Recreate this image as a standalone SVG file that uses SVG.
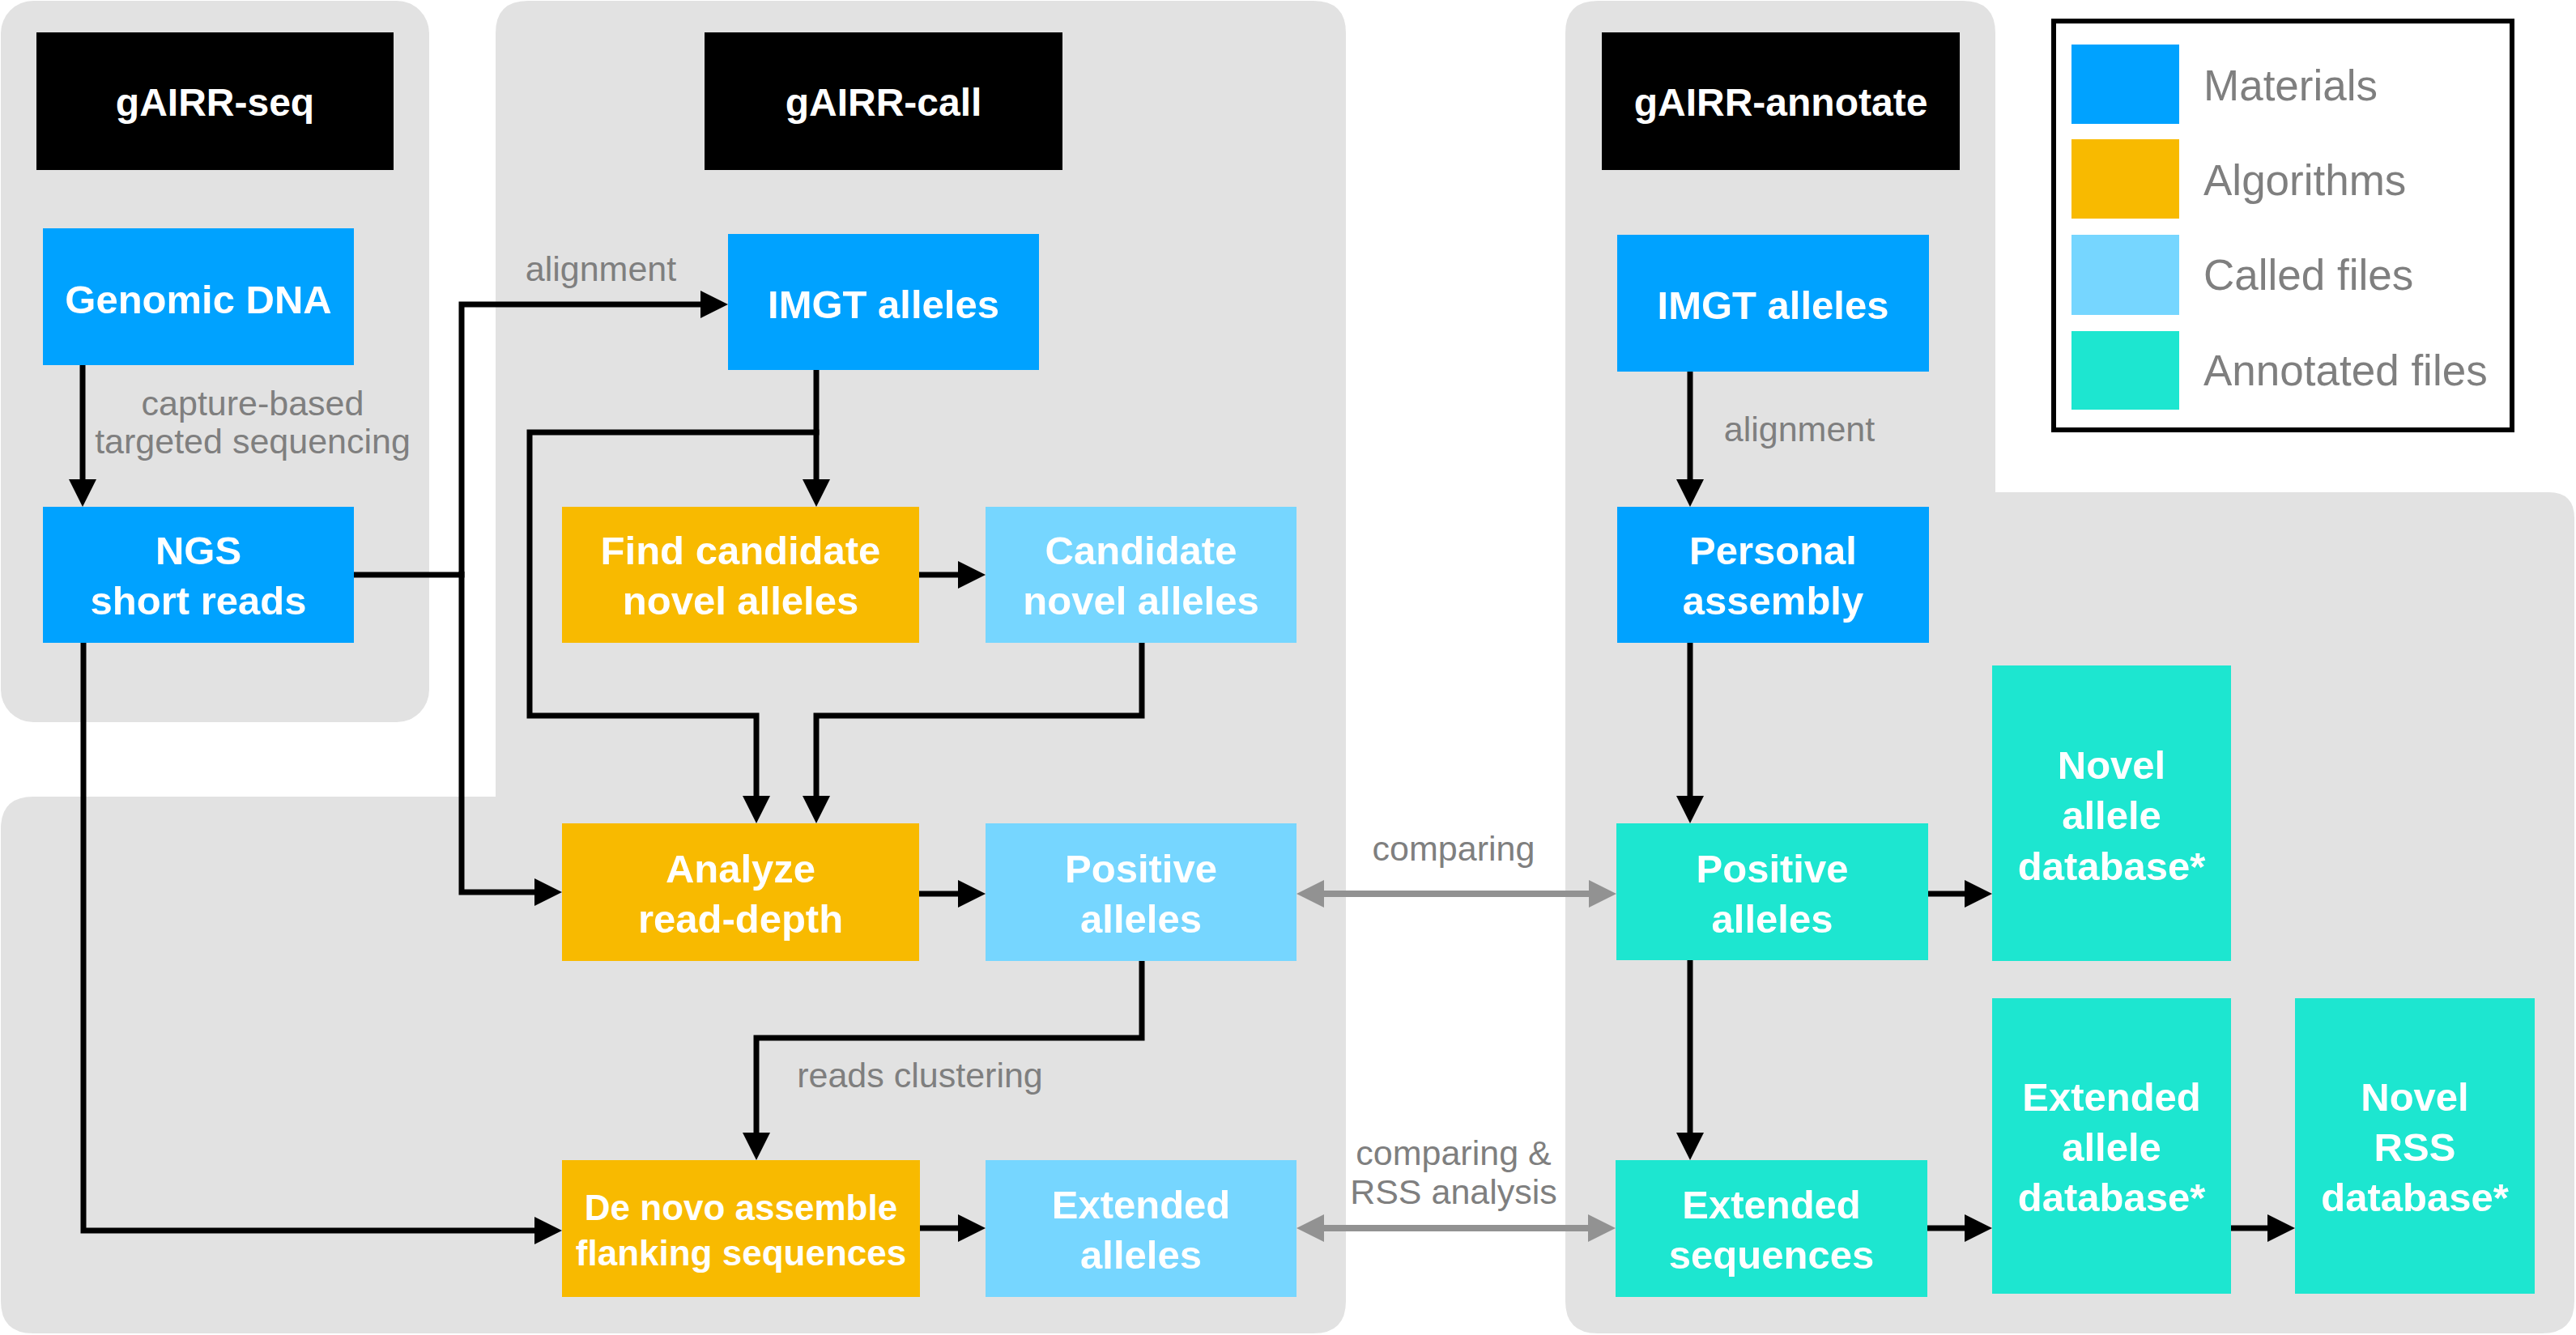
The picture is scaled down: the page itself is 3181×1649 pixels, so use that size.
<svg xmlns="http://www.w3.org/2000/svg" width="3181" height="1649" viewBox="0 0 3181 1649">
<style>
.panel{fill:#E2E2E2}
.hdr{fill:#000}
.hdrt{font-family:"Liberation Sans",Arial,sans-serif;font-weight:bold;font-size:48px;fill:#fff;text-anchor:middle}
.nt{font-family:"Liberation Sans",Arial,sans-serif;font-weight:bold;font-size:49px;fill:#fff;text-anchor:middle}
.nts{font-family:"Liberation Sans",Arial,sans-serif;font-weight:bold;font-size:44px;fill:#fff;text-anchor:middle}
.mat{fill:#00A2FF}
.alg{fill:#F8BA00}
.cal{fill:#76D6FF}
.ann{fill:#1DE6D0}
.lbl{font-family:"Liberation Sans",Arial,sans-serif;font-size:43px;fill:#7F7F7F}
.leg{font-family:"Liberation Sans",Arial,sans-serif;font-size:53px;fill:#7F7F7F}
.c{fill:none;stroke:#000;stroke-width:7}
.g{fill:none;stroke:#929292;stroke-width:8}
</style>
<defs>
<marker id="ah" markerUnits="userSpaceOnUse" markerWidth="34" markerHeight="34" refX="4" refY="17" orient="auto">
<path d="M0,0 L34,17 L0,34 z" fill="#000"/>
</marker>
<marker id="gh" markerUnits="userSpaceOnUse" markerWidth="34" markerHeight="34" refX="4" refY="17" orient="auto-start-reverse">
<path d="M0,0 L34,17 L0,34 z" fill="#929292"/>
</marker>
</defs>
<rect width="3181" height="1649" fill="#fff"/>
<g id="panels">
<rect id="panel-seq" class="panel" x="1" y="1" width="529" height="891" rx="40"/>
<path id="panel-call" class="panel" d="M652,1 H1622 Q1662,1 1662,41 V1607 Q1662,1647 1622,1647 H41 Q1,1647 1,1607 V1024 Q1,984 41,984 H612 V41 Q612,1 652,1 Z"/>
<path id="panel-annotate" class="panel" d="M1973,1 H2424 Q2464,1 2464,41 V608 H3147 Q3179,608 3179,640 V1607 Q3179,1647 3139,1647 H1973 Q1933,1647 1933,1607 V41 Q1933,1 1973,1 Z"/>
</g>
<g id="hdr-seq"><rect class="hdr" x="45" y="40" width="441" height="170"/><text class="hdrt" x="265.5" y="143">gAIRR-seq</text></g>
<g id="hdr-call"><rect class="hdr" x="870" y="40" width="442" height="170"/><text class="hdrt" x="1091" y="143">gAIRR-call</text></g>
<g id="hdr-annotate"><rect class="hdr" x="1978" y="40" width="442" height="170"/><text class="hdrt" x="2199" y="143">gAIRR-annotate</text></g>

<g id="connectors">
<path class="c" d="M102,451 V596" marker-end="url(#ah)"/>
<path class="c" d="M437,710 H570 V376 H869" marker-end="url(#ah)"/>
<path class="c" d="M570,706 V1102 H664" marker-end="url(#ah)"/>
<path class="c" d="M103,794 V1520 H664" marker-end="url(#ah)"/>
<path class="c" d="M1008,457 V596" marker-end="url(#ah)"/>
<path class="c" d="M1011.5,534 H654 V884 H934 V987" marker-end="url(#ah)"/>
<path class="c" d="M1135,710 H1187" marker-end="url(#ah)"/>
<path class="c" d="M1410,794 V884 H1008 V987" marker-end="url(#ah)"/>
<path class="c" d="M1135,1104 H1187" marker-end="url(#ah)"/>
<path class="c" d="M1410,1187 V1282 H934 V1403" marker-end="url(#ah)"/>
<path class="c" d="M1136,1517 H1187" marker-end="url(#ah)"/>
<path class="g" d="M1631,1104 H1966" marker-start="url(#gh)" marker-end="url(#gh)"/>
<path class="g" d="M1631,1517 H1965" marker-start="url(#gh)" marker-end="url(#gh)"/>
<path class="c" d="M2087,459 V596" marker-end="url(#ah)"/>
<path class="c" d="M2087,794 V987" marker-end="url(#ah)"/>
<path class="c" d="M2087,1186 V1403" marker-end="url(#ah)"/>
<path class="c" d="M2381,1104 H2430" marker-end="url(#ah)"/>
<path class="c" d="M2379,1517 H2430" marker-end="url(#ah)"/>
<path class="c" d="M2755,1517 H2804" marker-end="url(#ah)"/>
</g>

<g id="labels">
<text class="lbl" x="312" y="513" text-anchor="middle">capture-based</text>
<text class="lbl" x="312" y="560" text-anchor="middle">targeted sequencing</text>
<text class="lbl" x="742" y="347" text-anchor="middle">alignment</text>
<text class="lbl" x="2222" y="545" text-anchor="middle">alignment</text>
<text class="lbl" x="1795" y="1063" text-anchor="middle">comparing</text>
<text class="lbl" x="1795" y="1439" text-anchor="middle">comparing &amp;</text>
<text class="lbl" x="1795" y="1487" text-anchor="middle">RSS analysis</text>
<text class="lbl" x="1136" y="1343" text-anchor="middle">reads clustering</text>
</g>

<g id="genomic-dna"><rect class="mat" x="53" y="282" width="384" height="169"/><text class="nt" x="245" y="387">Genomic DNA</text></g>
<g id="ngs-reads"><rect class="mat" x="53" y="626" width="384" height="168"/><text class="nt" x="245" y="697">NGS</text><text class="nt" x="245" y="759">short reads</text></g>
<g id="imgt-call"><rect class="mat" x="899" y="289" width="384" height="168"/><text class="nt" x="1091" y="393">IMGT alleles</text></g>
<g id="find-candidate"><rect class="alg" x="694" y="626" width="441" height="168"/><text class="nt" x="914.5" y="697">Find candidate</text><text class="nt" x="914.5" y="759">novel alleles</text></g>
<g id="candidate-novel"><rect class="cal" x="1217" y="626" width="384" height="168"/><text class="nt" x="1409" y="697">Candidate</text><text class="nt" x="1409" y="759">novel alleles</text></g>
<g id="analyze"><rect class="alg" x="694" y="1017" width="441" height="170"/><text class="nt" x="914.5" y="1090">Analyze</text><text class="nt" x="914.5" y="1152">read-depth</text></g>
<g id="positive-call"><rect class="cal" x="1217" y="1017" width="384" height="170"/><text class="nt" x="1409" y="1090">Positive</text><text class="nt" x="1409" y="1152">alleles</text></g>
<g id="de-novo"><rect class="alg" x="694" y="1433" width="442" height="169"/><text class="nts" x="915" y="1507">De novo assemble</text><text class="nts" x="915" y="1563">flanking sequences</text></g>
<g id="extended-alleles"><rect class="cal" x="1217" y="1433" width="384" height="169"/><text class="nt" x="1409" y="1505">Extended</text><text class="nt" x="1409" y="1567">alleles</text></g>
<g id="imgt-annotate"><rect class="mat" x="1997" y="290" width="385" height="169"/><text class="nt" x="2189.5" y="394">IMGT alleles</text></g>
<g id="personal-assembly"><rect class="mat" x="1997" y="626" width="385" height="168"/><text class="nt" x="2189.5" y="697">Personal</text><text class="nt" x="2189.5" y="759">assembly</text></g>
<g id="positive-annotate"><rect class="ann" x="1996" y="1017" width="385" height="169"/><text class="nt" x="2188.5" y="1090">Positive</text><text class="nt" x="2188.5" y="1152">alleles</text></g>
<g id="extended-sequences"><rect class="ann" x="1995" y="1433" width="385" height="169"/><text class="nt" x="2187.5" y="1505">Extended</text><text class="nt" x="2187.5" y="1567">sequences</text></g>
<g id="novel-allele-db"><rect class="ann" x="2460" y="822" width="295" height="365"/><text class="nt" x="2607.5" y="962">Novel</text><text class="nt" x="2607.5" y="1024">allele</text><text class="nt" x="2607.5" y="1087">database*</text></g>
<g id="extended-allele-db"><rect class="ann" x="2460" y="1233" width="295" height="365"/><text class="nt" x="2607.5" y="1372">Extended</text><text class="nt" x="2607.5" y="1434">allele</text><text class="nt" x="2607.5" y="1496">database*</text></g>
<g id="novel-rss-db"><rect class="ann" x="2834" y="1233" width="296" height="365"/><text class="nt" x="2982" y="1372">Novel</text><text class="nt" x="2982" y="1434">RSS</text><text class="nt" x="2982" y="1496">database*</text></g>

<g id="legend">
<rect x="2536" y="26" width="566" height="505" fill="#fff" stroke="#000" stroke-width="6"/>
<rect class="mat" x="2558" y="55" width="133" height="98"/>
<rect class="alg" x="2558" y="172" width="133" height="98"/>
<rect class="cal" x="2558" y="290" width="133" height="99"/>
<rect class="ann" x="2558" y="409" width="133" height="97"/>
<text class="leg" x="2721" y="124">Materials</text>
<text class="leg" x="2721" y="241">Algorithms</text>
<text class="leg" x="2721" y="358">Called files</text>
<text class="leg" x="2721" y="476">Annotated files</text>
</g>
</svg>
